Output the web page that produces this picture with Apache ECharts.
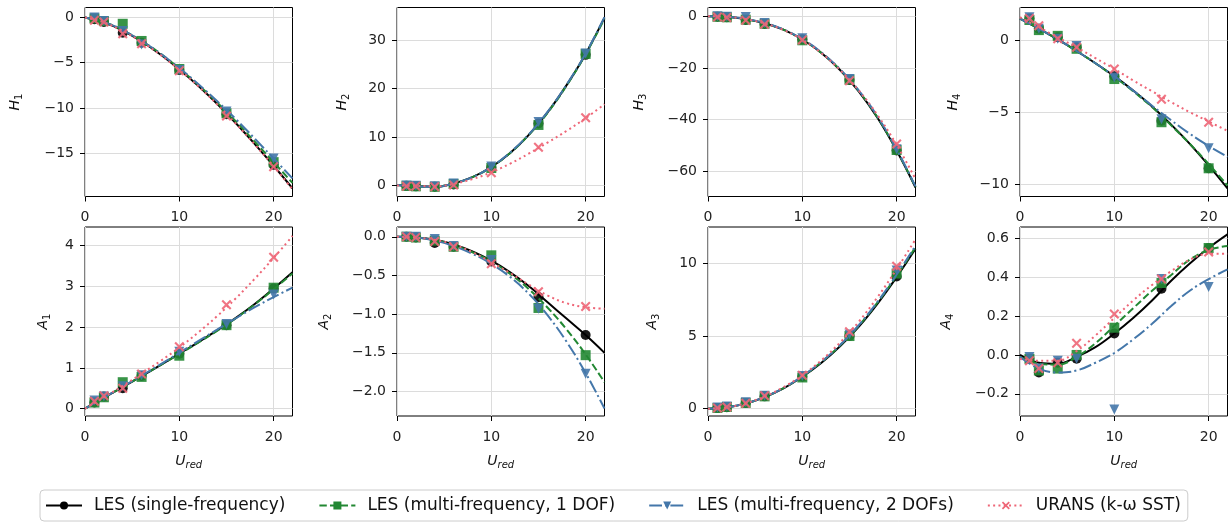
<!DOCTYPE html>
<html><head><meta charset="utf-8">
<script src="https://cdn.jsdelivr.net/npm/echarts@6/dist/echarts.min.js"></script>
<style>html,body{margin:0;padding:0;background:#fff}#c{width:1228px;height:523px}</style>
</head><body><div id="c"></div><script>
// ---------- data ----------
const U_MARK = [1, 2, 4, 6, 10, 15, 20];
const U_FIT = [0, 2, 4, 6, 8, 10, 12, 14, 16, 18, 20, 22];
const X_TICKS = [0, 10, 20];
const SERIES_NAMES = ['LES (single-frequency)', 'LES (multi-frequency, 1 DOF)', 'LES (multi-frequency, 2 DOFs)', 'URANS (k-\u03c9 SST)'];

// H1
const H1_TICKS = [-15, -10, -5, 0];
const H1_pts_les = [-0.2, -0.5, -1.7, -2.8, -5.8, -10.7, -16.3];
const H1_pts_mf1 = [-0.1, -0.4, -0.7, -2.6, -5.7, -10.6, -16.0];
const H1_pts_mf2 = [0.0, -0.4, -1.5, -3.0, -5.8, -10.4, -15.6];
const H1_pts_urans = [-0.3, -0.5, -1.8, -2.9, -5.9, -10.9, -16.5];
const H1_fit_les = [0, -0.55, -1.45, -2.65, -4.1, -5.75, -7.55, -9.55, -11.7, -14.0, -16.4, -18.9];
const H1_fit_mf1 = [0, -0.5, -1.4, -2.6, -4.0, -5.65, -7.45, -9.4, -11.5, -13.75, -16.0, -18.3];
const H1_fit_mf2 = [0, -0.5, -1.4, -2.6, -4.0, -5.6, -7.35, -9.25, -11.25, -13.4, -15.6, -17.8];
const H1_fit_urans = [0, -0.55, -1.5, -2.7, -4.15, -5.8, -7.6, -9.6, -11.75, -14.05, -16.45, -19.0];

// H2
const H2_TICKS = [0, 10, 20, 30];
const H2_pts_les = [-0.1, -0.2, -0.3, 0.2, 3.7, 12.8, 27.0];
const H2_pts_mf1 = [-0.1, -0.2, -0.3, 0.3, 3.6, 12.5, 27.2];
const H2_pts_mf2 = [0.0, -0.1, -0.2, 0.4, 3.9, 13.1, 27.3];
const H2_pts_urans = [-0.2, -0.2, -0.3, 0.1, 2.6, 7.9, 14.0];
const H2_fit_les = [0.1, -0.2, -0.3, 0.4, 1.7, 3.8, 6.7, 10.5, 15.2, 20.8, 27.2, 34.7];
const H2_fit_mf1 = [0.1, -0.2, -0.3, 0.4, 1.7, 3.8, 6.7, 10.5, 15.1, 20.7, 27.1, 34.5];
const H2_fit_mf2 = [0.1, -0.2, -0.3, 0.4, 1.7, 3.85, 6.8, 10.6, 15.3, 20.9, 27.3, 34.8];
const H2_fit_urans = [0, -0.1, -0.2, 0.3, 1.3, 2.7, 4.5, 6.6, 8.9, 11.3, 13.9, 16.8];

// H3
const H3_TICKS = [-60, -40, -20, 0];
const H3_pts_les = [-0.2, -0.4, -1.4, -3.0, -9.0, -24.7, -52.0];
const H3_pts_mf1 = [-0.2, -0.4, -1.3, -2.9, -9.3, -24.5, -51.8];
const H3_pts_mf2 = [0.0, -0.2, -0.3, -2.6, -8.5, -24.3, -51.5];
const H3_pts_urans = [-0.3, -0.5, -1.5, -3.1, -9.2, -25.0, -49.5];
const H3_fit_les = [0, -0.2, -1.1, -2.7, -5.2, -9.0, -14.1, -20.8, -29.2, -39.5, -52.0, -66.3];
const H3_fit_mf1 = [0, -0.2, -1.1, -2.7, -5.2, -9.0, -14.1, -20.7, -29.0, -39.3, -51.8, -66.1];
const H3_fit_mf2 = [0, -0.2, -1.0, -2.6, -5.1, -8.8, -13.9, -20.5, -28.8, -39.0, -51.5, -65.9];
const H3_fit_urans = [0, -0.2, -1.1, -2.8, -5.3, -9.1, -14.2, -20.8, -28.8, -38.4, -49.8, -63.0];

// H4
const H4_TICKS = [-10, -5, 0];
const H4_pts_les = [1.5, 0.8, 0.2, -0.5, -2.5, -5.6, -8.9];
const H4_pts_mf1 = [1.4, 0.7, 0.3, -0.6, -2.7, -5.7, -8.9];
const H4_pts_mf2 = [1.6, 0.8, 0.1, -0.4, -2.6, -5.5, -7.5];
const H4_pts_urans = [1.5, 1.0, 0.1, -0.5, -2.0, -4.1, -5.7];
const H4_fit_les = [1.5, 0.8, 0.05, -0.75, -1.6, -2.5, -3.5, -4.6, -5.85, -7.2, -8.7, -10.3];
const H4_fit_mf1 = [1.5, 0.8, 0.05, -0.75, -1.6, -2.55, -3.55, -4.65, -5.9, -7.2, -8.6, -10.1];
const H4_fit_mf2 = [1.5, 0.8, 0.05, -0.75, -1.6, -2.5, -3.5, -4.55, -5.55, -6.5, -7.35, -8.1];
const H4_fit_urans = [1.6, 0.9, 0.2, -0.5, -1.25, -2.0, -2.8, -3.55, -4.3, -5.0, -5.65, -6.3];

// A1
const A1_TICKS = [0, 1, 2, 3, 4];
const A1_pts_les = [0.15, 0.3, 0.5, 0.8, 1.35, 2.05, 2.95];
const A1_pts_mf1 = [0.15, 0.28, 0.65, 0.78, 1.3, 2.05, 2.97];
const A1_pts_mf2 = [0.2, 0.3, 0.55, 0.82, 1.4, 2.08, 2.8];
const A1_pts_urans = [0.18, 0.32, 0.5, 0.85, 1.52, 2.55, 3.72];
const A1_fit_les = [0.0, 0.27, 0.53, 0.8, 1.07, 1.35, 1.63, 1.92, 2.23, 2.57, 2.95, 3.35];
const A1_fit_mf1 = [0.0, 0.27, 0.53, 0.8, 1.07, 1.34, 1.62, 1.91, 2.22, 2.56, 2.93, 3.32];
const A1_fit_mf2 = [0.0, 0.27, 0.54, 0.81, 1.09, 1.37, 1.66, 1.94, 2.22, 2.49, 2.74, 2.97];
const A1_fit_urans = [0.0, 0.28, 0.56, 0.86, 1.17, 1.5, 1.87, 2.27, 2.71, 3.19, 3.7, 4.24];

// A2
const A2_TICKS = [-2, -1.5, -1, -0.5, 0];
const A2_pts_les = [0.0, -0.01, -0.08, -0.13, -0.32, -0.78, -1.27];
const A2_pts_mf1 = [0.0, -0.01, -0.05, -0.13, -0.24, -0.92, -1.53];
const A2_pts_mf2 = [0.0, 0.0, -0.03, -0.12, -0.30, -0.93, -1.77];
const A2_pts_urans = [0.0, -0.01, -0.06, -0.13, -0.35, -0.71, -0.90];
const A2_fit_les = [0.0, -0.01, -0.04, -0.1, -0.19, -0.31, -0.46, -0.64, -0.85, -1.06, -1.27, -1.5];
const A2_fit_mf1 = [0.0, -0.01, -0.04, -0.11, -0.2, -0.32, -0.48, -0.68, -0.92, -1.2, -1.52, -1.88];
const A2_fit_mf2 = [0.0, -0.01, -0.05, -0.12, -0.22, -0.35, -0.52, -0.74, -1.02, -1.36, -1.76, -2.22];
const A2_fit_urans = [0.0, -0.01, -0.04, -0.1, -0.2, -0.33, -0.47, -0.62, -0.76, -0.86, -0.91, -0.93];

// A3
const A3_TICKS = [0, 5, 10];
const A3_pts_les = [0.05, 0.1, 0.4, 0.85, 2.2, 5.0, 9.1];
const A3_pts_mf1 = [0.05, 0.12, 0.4, 0.85, 2.15, 5.0, 9.3];
const A3_pts_mf2 = [0.08, 0.15, 0.45, 0.9, 2.25, 5.1, 9.5];
const A3_pts_urans = [0.05, 0.12, 0.38, 0.9, 2.3, 5.3, 9.8];
const A3_fit_les = [0.0, 0.1, 0.35, 0.8, 1.4, 2.2, 3.15, 4.3, 5.65, 7.25, 9.05, 11.0];
const A3_fit_mf1 = [0.0, 0.1, 0.36, 0.8, 1.42, 2.22, 3.2, 4.35, 5.72, 7.33, 9.15, 11.1];
const A3_fit_mf2 = [0.0, 0.1, 0.36, 0.81, 1.43, 2.24, 3.22, 4.38, 5.76, 7.38, 9.23, 11.2];
const A3_fit_urans = [0.0, 0.1, 0.37, 0.84, 1.48, 2.3, 3.32, 4.55, 6.0, 7.7, 9.6, 11.65];

// A4
const A4_TICKS = [-0.2, 0, 0.2, 0.4, 0.6];
const A4_pts_les = [-0.02, -0.09, -0.04, -0.02, 0.11, 0.34, 0.55];
const A4_pts_mf1 = [-0.02, -0.08, -0.07, 0.0, 0.14, 0.37, 0.55];
const A4_pts_mf2 = [-0.01, -0.07, -0.03, -0.02, -0.28, 0.39, 0.35];
const A4_pts_urans = [-0.03, -0.07, -0.04, 0.06, 0.21, 0.39, 0.53];
const A4_fit_les = [0.0, -0.04, -0.045, -0.01, 0.04, 0.11, 0.19, 0.28, 0.38, 0.47, 0.55, 0.62];
const A4_fit_mf1 = [-0.01, -0.045, -0.05, -0.01, 0.06, 0.15, 0.24, 0.33, 0.41, 0.49, 0.54, 0.56];
const A4_fit_mf2 = [-0.01, -0.07, -0.09, -0.08, -0.04, 0.01, 0.08, 0.16, 0.25, 0.33, 0.39, 0.44];
const A4_fit_urans = [-0.02, -0.03, -0.03, 0.02, 0.1, 0.19, 0.28, 0.36, 0.43, 0.49, 0.52, 0.52];

// ---------- layout / style ----------
const FONT = 'DejaVu Sans';
const PANELS = [
  {sym: 'H', sub: '1', ticks: H1_TICKS, range: [-19.8, 1.1], dec: 0, gap: 61, pts: [H1_pts_les, H1_pts_mf1, H1_pts_mf2, H1_pts_urans], fit: [H1_fit_les, H1_fit_mf1, H1_fit_mf2, H1_fit_urans]},
  {sym: 'H', sub: '2', ticks: H2_TICKS, range: [-2.3, 36.8], dec: 0, gap: 46, pts: [H2_pts_les, H2_pts_mf1, H2_pts_mf2, H2_pts_urans], fit: [H2_fit_les, H2_fit_mf1, H2_fit_mf2, H2_fit_urans]},
  {sym: 'H', sub: '3', ticks: H3_TICKS, range: [-69.8, 3.4], dec: 0, gap: 60, pts: [H3_pts_les, H3_pts_mf1, H3_pts_mf2, H3_pts_urans], fit: [H3_fit_les, H3_fit_mf1, H3_fit_mf2, H3_fit_urans]},
  {sym: 'H', sub: '4', ticks: H4_TICKS, range: [-10.86, 2.27], dec: 0, gap: 58, pts: [H4_pts_les, H4_pts_mf1, H4_pts_mf2, H4_pts_urans], fit: [H4_fit_les, H4_fit_mf1, H4_fit_mf2, H4_fit_urans]},
  {sym: 'A', sub: '1', ticks: A1_TICKS, range: [-0.18, 4.46], dec: 0, gap: 33, pts: [A1_pts_les, A1_pts_mf1, A1_pts_mf2, A1_pts_urans], fit: [A1_fit_les, A1_fit_mf1, A1_fit_mf2, A1_fit_urans]},
  {sym: 'A', sub: '2', ticks: A2_TICKS, range: [-2.316, 0.126], dec: 1, gap: 64, pts: [A2_pts_les, A2_pts_mf1, A2_pts_mf2, A2_pts_urans], fit: [A2_fit_les, A2_fit_mf1, A2_fit_mf2, A2_fit_urans]},
  {sym: 'A', sub: '3', ticks: A3_TICKS, range: [-0.5, 12.5], dec: 0, gap: 47, pts: [A3_pts_les, A3_pts_mf1, A3_pts_mf2, A3_pts_urans], fit: [A3_fit_les, A3_fit_mf1, A3_fit_mf2, A3_fit_urans]},
  {sym: 'A', sub: '4', ticks: A4_TICKS, range: [-0.314, 0.658], dec: 1, gap: 65, pts: [A4_pts_les, A4_pts_mf1, A4_pts_mf2, A4_pts_urans], fit: [A4_fit_les, A4_fit_mf1, A4_fit_mf2, A4_fit_urans]}
];
const LEFTS = [85, 397, 708, 1020];
const TOPS = [7.5, 227];
const GW = 207.5, GH = 189;

const TRI_DOWN = 'path://M0,0L10,0L5,10Z';
const XMARK = 'path://M0,1.5L1.5,0L5,3.5L8.5,0L10,1.5L6.5,5L10,8.5L8.5,10L5,6.5L1.5,10L0,8.5L3.5,5Z';
const STYLES = [
  {color: '#000000', dash: 'solid', symbol: 'circle', size: 10},
  {color: '#228833', dash: [7.4, 3.2], symbol: 'rect', size: 10},
  {color: '#4477AA', dash: [12.8, 3.2, 2, 3.2], symbol: TRI_DOWN, size: 10},
  {color: '#EE6677', dash: [2, 3.3], symbol: XMARK, size: 10}
];

function fmt(dec) {
  return function (v) {
    let s = dec ? Number(v).toFixed(dec) : String(Math.round(v));
    if (/^-0(\.0+)?$/.test(s)) s = s.slice(1);
    return s.replace('-', '\u2212');
  };
}

const grids = [], xAxes = [], yAxes = [], series = [];

// legend carrier series (first, so legend picks their style)
STYLES.forEach((st, k) => {
  series.push({
    type: 'line', name: SERIES_NAMES[k], xAxisIndex: 0, yAxisIndex: 0, data: [],
    symbol: st.symbol, symbolSize: 9, silent: true,
    itemStyle: {color: st.color},
    lineStyle: {color: st.color, width: 2, type: st.dash}
  });
});

PANELS.forEach((p, i) => {
  const row = Math.floor(i / 4), col = i % 4;
  grids.push({left: LEFTS[col], top: TOPS[row], width: GW, height: GH, show: true,
    borderColor: '#000', borderWidth: 1, backgroundColor: 'transparent', containLabel: false});
  const rich = {
    i: {fontFamily: FONT, fontStyle: 'italic', fontSize: 14, color: '#111', lineHeight: 18},
    s: {fontFamily: FONT, fontSize: 10, color: '#111', lineHeight: 12, verticalAlign: 'bottom'},
    si: {fontFamily: FONT, fontStyle: 'italic', fontSize: 10, color: '#111', lineHeight: 12, verticalAlign: 'bottom'}
  };
  xAxes.push({
    gridIndex: i, type: 'value', min: 0, max: 22, minInterval: 10, maxInterval: 10,
    axisLine: {show: false, onZero: false},
    axisTick: {show: true, length: 5, lineStyle: {color: '#000', width: 1}, customValues: X_TICKS},
    axisLabel: {customValues: X_TICKS, fontFamily: FONT, fontSize: 14, color: '#222', margin: 14, formatter: fmt(0)},
    splitLine: {show: true, lineStyle: {color: '#dcdcdc', width: 1}},
    name: row === 1 ? '{i|U}{si|red}' : '', nameLocation: 'middle', nameGap: 36,
    nameTextStyle: {rich: rich}
  });
  const span = p.ticks[1] - p.ticks[0];
  yAxes.push({
    gridIndex: i, type: 'value', min: p.range[0], max: p.range[1], minInterval: span, maxInterval: span,
    axisLine: {show: false, onZero: false},
    axisTick: {show: true, length: 5, lineStyle: {color: '#000', width: 1}, customValues: p.ticks},
    axisLabel: {customValues: p.ticks, fontFamily: FONT, fontSize: 14, color: '#222', margin: 11, formatter: fmt(p.dec)},
    splitLine: {show: true, lineStyle: {color: '#dcdcdc', width: 1}},
    name: '{i|' + p.sym + '}{s|' + p.sub + '}', nameLocation: 'middle', nameRotate: 90, nameGap: p.gap,
    nameTextStyle: {rich: rich}
  });
  STYLES.forEach((st, k) => {
    series.push({
      type: 'line', name: SERIES_NAMES[k], xAxisIndex: i, yAxisIndex: i,
      data: U_FIT.map((u, j) => [u, p.fit[k][j]]),
      smooth: 0.4, showSymbol: false, symbol: 'none', silent: true, z: 2 + k,
      lineStyle: {color: st.color, width: 2, type: st.dash}
    });
    series.push({
      type: 'scatter', name: SERIES_NAMES[k], xAxisIndex: i, yAxisIndex: i,
      data: U_MARK.map((u, j) => [u, p.pts[k][j]]),
      symbol: st.symbol, symbolSize: st.size, silent: true, z: 2 + k,
      itemStyle: {color: st.color, opacity: 0.9}
    });
  });
});

const chart = echarts.init(document.getElementById('c'), null, {renderer: 'canvas'});
chart.setOption({
  animation: false,
  backgroundColor: '#fff',
  grid: grids, xAxis: xAxes, yAxis: yAxes, series: series,
  legend: {
    data: SERIES_NAMES, left: 40, top: 490, orient: 'horizontal',
    itemWidth: 36, itemHeight: 10, itemGap: 33,
    padding: [7, 7, 7, 5],
    borderColor: '#cccccc', borderWidth: 1, borderRadius: 4,
    textStyle: {fontFamily: FONT, fontSize: 17, color: '#111', padding: [0, 0, 0, 7]},
    selectedMode: false
  }
});
</script></body></html>
